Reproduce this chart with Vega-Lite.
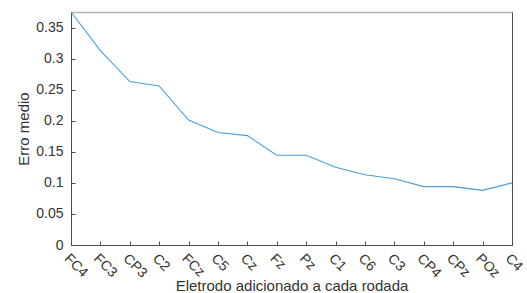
{
  "$schema": "https://vega.github.io/schema/vega-lite/v6.json",
  "autosize": {"type": "none"},
  "padding": {"left": 71, "top": 12, "right": 15, "bottom": 48},
  "width": 441,
  "height": 233,
  "background": "white",
  "config": {
    "view": {"stroke": "#4d4d4d", "strokeWidth": 1},
    "font": "Liberation Sans",
    "axis": {
      "grid": false,
      "domainColor": "#4d4d4d",
      "tickColor": "#4d4d4d",
      "labelColor": "#333333",
      "titleColor": "#333333",
      "labelFont": "Liberation Sans",
      "titleFont": "Liberation Sans",
      "labelFontSize": 14,
      "titleFontSize": 15,
      "titleFontWeight": "normal",
      "tickSize": -4
    }
  },
  "data": {
    "values": [
      {"eletrodo": "FC4", "erro": 0.375},
      {"eletrodo": "FC3", "erro": 0.313},
      {"eletrodo": "CP3", "erro": 0.263},
      {"eletrodo": "C2", "erro": 0.256},
      {"eletrodo": "FCz", "erro": 0.201},
      {"eletrodo": "C5", "erro": 0.181},
      {"eletrodo": "Cz", "erro": 0.176},
      {"eletrodo": "Fz", "erro": 0.1445},
      {"eletrodo": "Pz", "erro": 0.1445},
      {"eletrodo": "C1", "erro": 0.125},
      {"eletrodo": "C6", "erro": 0.113},
      {"eletrodo": "C3", "erro": 0.1065},
      {"eletrodo": "CP4", "erro": 0.094},
      {"eletrodo": "CPz", "erro": 0.094},
      {"eletrodo": "POz", "erro": 0.088},
      {"eletrodo": "C4", "erro": 0.1}
    ]
  },
  "layer": [
    {
      "mark": {"type": "line", "color": "#4a9fd8", "strokeWidth": 1.1},
      "encoding": {
        "x": {
          "field": "eletrodo",
          "type": "ordinal",
          "sort": null,
          "scale": {"type": "point", "padding": 0},
          "axis": {
            "title": "Eletrodo adicionado a cada rodada",
            "labelAngle": 45,
            "labelAlign": "left",
            "labelBaseline": "top",
            "labelPadding": 10,
            "titleBaseline": "alphabetic",
            "titleY": 45
          }
        },
        "y": {
          "field": "erro",
          "type": "quantitative",
          "scale": {"domain": [0, 0.375], "nice": false, "zero": true},
          "axis": {
            "title": "Erro medio",
            "values": [0, 0.05, 0.1, 0.15, 0.2, 0.25, 0.3, 0.35],
            "format": ".2~f",
            "labelPadding": 12,
            "titlePadding": 4
          }
        }
      }
    },
    {
      "mark": {"type": "line", "opacity": 0},
      "encoding": {
        "x": {
          "field": "eletrodo",
          "type": "ordinal",
          "sort": null,
          "scale": {"type": "point", "padding": 0},
          "axis": {"orient": "top", "title": null, "labels": false, "ticks": false, "domainColor": "#b3b3b3", "domainWidth": 1.5}
        },
        "y": {
          "field": "erro",
          "type": "quantitative",
          "scale": {"domain": [0, 0.375], "nice": false},
          "axis": {"orient": "right", "title": null, "labels": false, "ticks": false}
        }
      }
    }
  ],
  "resolve": {"axis": {"x": "independent", "y": "independent"}}
}
